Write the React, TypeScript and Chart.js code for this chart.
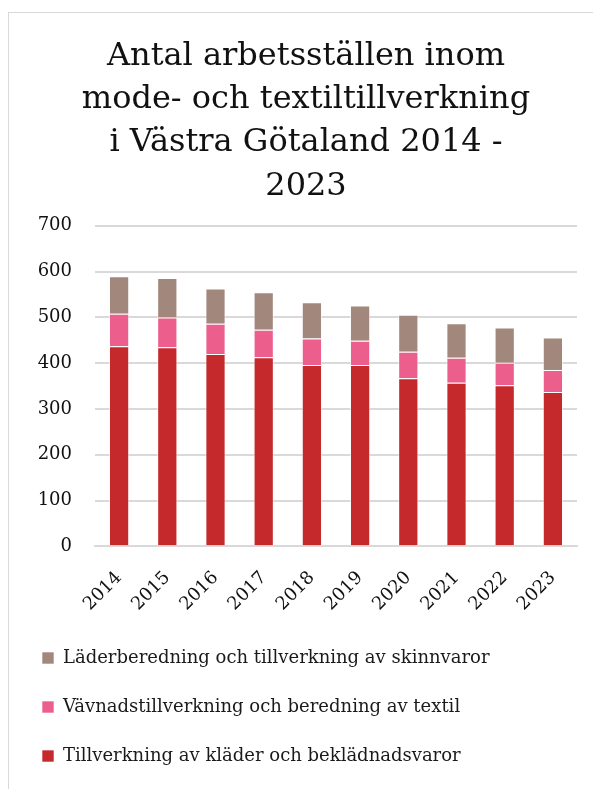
import React, { useEffect, useRef } from "react";
import { Chart, registerables } from "chart.js";

Chart.register(...registerables);

const years = ["2014", "2015", "2016", "2017", "2018", "2019", "2020", "2021", "2022", "2023"];
const klader = [437, 435, 420, 413, 396, 396, 367, 357, 352, 337];
const vavnad = [71, 65, 66, 60, 58, 53, 58, 55, 49, 48];
const lader = [82, 86, 77, 82, 79, 77, 81, 75, 77, 71];
const yTicks = [0, 100, 200, 300, 400, 500, 600, 700];
const titleLines = ["Antal arbetsställen inom", "mode- och textiltillverkning", "i Västra Götaland 2014 -", "2023"];
const seriesNames = [
  "Tillverkning av kläder och beklädnadsvaror",
  "Vävnadstillverkning och beredning av textil",
  "Läderberedning och tillverkning av skinnvaror",
];

const FONT = "'DejaVu Serif', Georgia, serif";

export default function App() {
  const ref = useRef<HTMLCanvasElement | null>(null);
  useEffect(() => {
    document.body.style.overflow = "hidden";
    const ctx = ref.current!;
    const border = "rgba(255,255,255,0.6)";
    const chart = new Chart(ctx, {
      type: "bar",
      data: {
        labels: years,
        datasets: [
          { label: seriesNames[0], data: klader, backgroundColor: "#C5292B", borderColor: border, borderWidth: 1, yAxisID: "y" },
          { label: seriesNames[1], data: vavnad, backgroundColor: "#EC5F8C", borderColor: border, borderWidth: 1, yAxisID: "y" },
          { label: seriesNames[2], data: lader, backgroundColor: "#A2887C", borderColor: border, borderWidth: 1, yAxisID: "y" },
        ],
      },
      options: {
        animation: false,
        responsive: false,
        maintainAspectRatio: false,
        layout: { padding: { left: 2, right: 6, top: 0, bottom: 14 } },
        datasets: { bar: { barPercentage: 0.42, categoryPercentage: 1 } },
        plugins: {
          title: {
            display: true,
            text: titleLines,
            color: "#111",
            font: { family: FONT, size: 32, weight: "normal", lineHeight: 1.35 },
            padding: { top: 22, bottom: 18 },
          },
          legend: {
            position: "bottom",
            align: "start",
            reverse: true,
            labels: {
              color: "#1a1a1a",
              font: { family: FONT, size: 18 },
              boxWidth: 12,
              boxHeight: 12,
              padding: 31,
            },
          },
          tooltip: { enabled: false },
        },
        scales: {
          x: {
            stacked: true,
            grid: { display: false },
            border: { display: true, color: "#d9d9d9", width: 2 },
            ticks: {
              color: "#111",
              font: { family: FONT, size: 18 },
              minRotation: 45,
              maxRotation: 45,
              padding: 13,
            },
            afterFit: (axis: any) => {
              axis.height = axis.height - 10;
            },
          },
          y: {
            stacked: true,
            min: 0,
            max: 700,
            afterBuildTicks: (axis: any) => {
              axis.ticks = yTicks.map((v) => ({ value: v }));
            },
            afterFit: (axis: any) => {
              axis.width = 84;
            },
            grid: { color: "#d9d9d9", lineWidth: 2, drawTicks: false },
            border: { display: false },
            ticks: {
              color: "#111",
              font: { family: FONT, size: 18 },
              padding: 23,
            },
          },
          yRight: {
            position: "right",
            display: true,
            min: 0,
            max: 700,
            grid: { display: false, drawTicks: false },
            border: { display: false },
            ticks: { display: false },
            afterFit: (axis: any) => {
              axis.width = 24;
            },
          },
        },
      },
    });
    return () => chart.destroy();
  }, []);
  return (
    <div
      style={{
        marginTop: 4,
        width: 600,
        height: 800,
        border: "1px solid #d9d9d9",
        boxSizing: "border-box",
        background: "#fff",
      }}
    >
      <canvas ref={ref} width={598} height={776} style={{ display: "block" }} />
    </div>
  );
}
